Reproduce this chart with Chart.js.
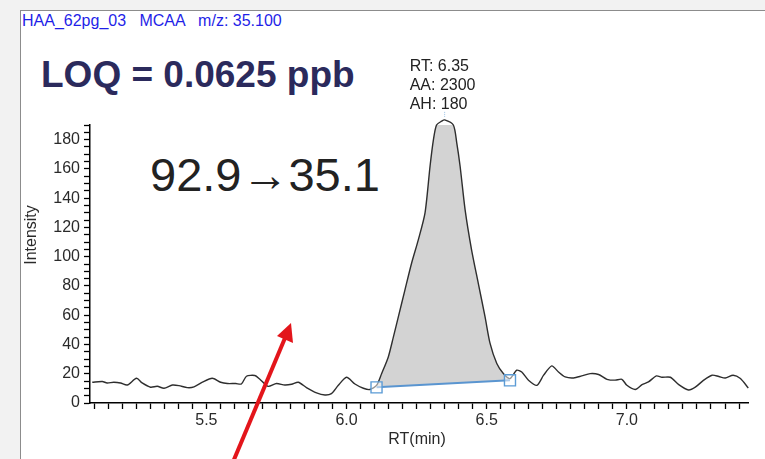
<!DOCTYPE html>
<html lang="en">

<head>
  <meta charset="UTF-8">
  <script src="https://cdn.jsdelivr.net/npm/chart.js@4"></script>
  <title>MCAA 92.9 - 35.1</title>
  <style>
    body { margin: 0; background: #f2f2f2; font-family: Arial, 'Liberation Sans', sans-serif; }
    .frame { position: absolute; left: 20px; top: 10px; width: 760px; height: 460px; background: #fff;
             border-left: 1.5px solid #8c8c8c; border-top: 1.5px solid #8c8c8c; }
    .container { position: absolute; left: 0; top: 0; width: 765px; height: 459px; }
    .txt { position: absolute; line-height: 1; white-space: pre; }
    #header { left: 22px; top: 12.5px; font-size: 16px; color: #1f1fe8; }
    #loq { left: 41px; top: 55.5px; font-size: 37px; font-weight: bold; color: #2b2a5c; }
    #transition { left: 150px; top: 151px; font-size: 47px; color: #222; }
    svg { position: absolute; left: 0; top: 0; }
  </style>
</head>

<body>
  <div class="frame"></div>
  <div class="txt" id="header">HAA_62pg_03   MCAA   m/z: 35.100</div>
  <div class="txt" id="loq">LOQ = 0.0625 ppb</div>
  <div class="txt" id="transition">92.9→35.1</div>
  <div class="container">
    <canvas id="sicChart"></canvas>
  </div>
  <svg width="765" height="459">
    <line x1="233" y1="462" x2="285" y2="338" stroke="#e3151b" stroke-width="4" />
    <polygon points="291,323 293,343 277,336" fill="#e3151b" />
  </svg>

  <script>
    // extracted ion chromatogram, retention time in minutes
    const rtMin = [5.093, 5.129, 5.146, 5.170, 5.194, 5.218, 5.251, 5.271, 5.301, 5.325,
      5.349, 5.379, 5.402, 5.432, 5.456, 5.486, 5.521, 5.551, 5.575, 5.605,
      5.625, 5.643, 5.673, 5.690, 5.720, 5.750, 5.780, 5.804, 5.828, 5.857,
      5.893, 5.923, 5.946, 5.970, 6.000, 6.030, 6.060, 6.083, 6.107, 6.125,
      6.149, 6.167, 6.185, 6.208, 6.232, 6.256, 6.280, 6.298, 6.310, 6.321,
      6.339, 6.350, 6.381, 6.393, 6.405, 6.423, 6.446, 6.470, 6.494, 6.512,
      6.536, 6.560, 6.583, 6.607, 6.625, 6.649, 6.679, 6.703, 6.732, 6.756,
      6.780, 6.810, 6.839, 6.869, 6.899, 6.929, 6.958, 6.982, 7.000, 7.030,
      7.054, 7.077, 7.105, 7.125, 7.155, 7.185, 7.220, 7.244, 7.274, 7.304,
      7.328, 7.351, 7.379, 7.405, 7.433];
    const intensity = [14.2, 14.7, 13.7, 14.2, 13.7, 12.3, 16.9, 13.7, 10.8, 11.4,
      10.1, 12.3, 11.9, 10.5, 11.0, 14.2, 16.9, 14.2, 13.3, 13.3,
      13.0, 18.3, 18.8, 16.4, 11.4, 13.3, 12.3, 12.8, 14.2, 10.5,
      6.9, 5.5, 6.4, 11.9, 17.6, 13.0, 10.1, 9.2, 12.0, 20,
      31.5, 45, 59, 77, 95.5, 111.5, 130, 162, 180, 190,
      192.6, 193.5, 190, 178, 162, 132, 104.7, 81.8, 59, 40.7,
      27, 20, 16.7, 22.4, 21.2, 15.6, 12.1, 19, 25.4, 21.2,
      17.8, 17.1, 18.5, 20.1, 19.5, 16.2, 15.6, 16.2, 12.1, 9.2,
      12.6, 14.4, 18.5, 17.6, 17.6, 12.6, 8.9, 10.8, 15.6, 19,
      18.1, 17.1, 19, 16.7, 10.3];

    // integration baseline (start, end)
    const baselineRt = [6.107, 6.583];
    const baselineInt = [10.7, 15.5];

    // peak results
    const peakRt = 6.35;
    const peakArea = 2300;
    const peakHeight = 180;

    const trace = rtMin.map((x, i) => ({ x: x, y: intensity[i] }));
    const peak = trace.filter(p => p.x >= baselineRt[0] - 1e-6 && p.x <= baselineRt[1] + 1e-6);
    const baseline = baselineRt.map((x, i) => ({ x: x, y: baselineInt[i] }));

    const FONT = "Arial, 'Liberation Sans', sans-serif";

    // axis titles and the peak label
    const annotations = {
      id: 'annotations',
      afterDraw(chart) {
        const c = chart.ctx;
        const xs = chart.scales.x, ys = chart.scales.y;
        c.save();
        c.fillStyle = '#2a2a2a';
        c.font = '16px ' + FONT;
        c.textAlign = 'center';
        c.textBaseline = 'alphabetic';
        c.fillText('RT(min)', 417, 444);
        c.translate(36, 235);
        c.rotate(-Math.PI / 2);
        c.fillText('Intensity', 0, 0);
        c.restore();

        // label above the apex
        let top = peak[0];
        peak.forEach(p => { if (p.y > top.y) top = p; });
        const px = xs.getPixelForValue(peakRt);
        const py = ys.getPixelForValue(top.y);
        c.save();
        c.strokeStyle = '#9cc3e6';
        c.lineWidth = 1;
        c.setLineDash([1, 1]);
        c.beginPath();
        c.moveTo(px, py - 8);
        c.lineTo(px, py - 2);
        c.stroke();
        c.fillStyle = '#222';
        c.font = '16px ' + FONT;
        c.textAlign = 'left';
        c.fillText('RT: ' + peakRt.toFixed(2), px - 35, py - 49);
        c.fillText('AA: ' + peakArea, px - 35, py - 30);
        c.fillText('AH: ' + peakHeight, px - 35, py - 11);
        c.restore();
      }
    };

    const ctx = document.getElementById('sicChart').getContext('2d');
    const chart = new Chart(ctx, {
      type: 'line',
      data: {
        datasets: [
          {
            label: 'trace',
            data: trace,
            borderColor: '#2e2e2e',
            borderWidth: 1.4,
            pointRadius: 0,
            tension: 0.25,
            fill: false,
            clip: false,
            order: 1
          },
          {
            label: 'peak',
            data: peak,
            borderWidth: 0,
            pointRadius: 0,
            tension: 0.25,
            backgroundColor: '#d3d3d3',
            fill: { target: 2 },
            clip: false,
            order: 2
          },
          {
            label: 'baseline',
            data: baseline,
            borderColor: '#5a95d0',
            borderWidth: 2,
            tension: 0,
            pointStyle: 'rect',
            pointRadius: 7.8,
            pointBorderColor: '#5b9bd5',
            pointBorderWidth: 1.4,
            pointBackgroundColor: 'rgba(255,255,255,0.5)',
            fill: false,
            order: 0
          }
        ]
      },
      options: {
        responsive: true,
        maintainAspectRatio: false,
        animation: false,
        layout: { padding: { top: 125, right: 17, left: 0, bottom: 0 } },
        plugins: { legend: { display: false }, tooltip: { enabled: false } },
        scales: {
          x: {
            type: 'linear',
            min: 5.085,
            max: 7.432,
            afterFit: s => { s.height = 56; },
            border: { color: '#000', width: 1.5 },
            grid: { drawOnChartArea: false, tickLength: 6, tickColor: '#000', tickWidth: 1.3 },
            ticks: {
              stepSize: 0.05,
              includeBounds: false,
              autoSkip: false,
              maxRotation: 0,
              padding: 2,
              color: '#2a2a2a',
              font: { family: FONT, size: 16 },
              callback: v => Math.abs(v * 2 - Math.round(v * 2)) < 1e-6 ? v.toFixed(1) : ''
            }
          },
          y: {
            min: 0,
            max: 190,
            afterFit: s => { s.width = 90; },
            border: { color: '#000', width: 1.5 },
            grid: { drawOnChartArea: false, tickLength: 6, tickColor: '#000', tickWidth: 1.3 },
            ticks: {
              stepSize: 5,
              includeBounds: false,
              autoSkip: false,
              padding: 4,
              color: '#2a2a2a',
              font: { family: FONT, size: 16 },
              callback: v => v % 20 === 0 ? v : ''
            }
          }
        }
      },
      plugins: [annotations]
    });
  </script>
</body>

</html>
